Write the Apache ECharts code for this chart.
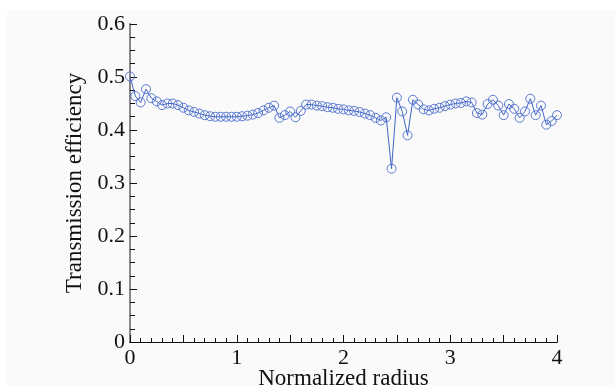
<!DOCTYPE html>
<html><head><meta charset="utf-8">
<script src="https://cdn.jsdelivr.net/npm/echarts@6/dist/echarts.min.js"></script>
<style>html,body{margin:0;padding:0;background:#fff}#c{width:615px;height:385px}</style>
</head><body><div id="c"></div>
<script>
var radius = [0.00,0.05,0.10,0.15,0.20,0.25,0.30,0.35,0.40,0.45,0.50,0.55,0.60,0.65,0.70,0.75,0.80,0.85,0.90,0.95,
1.00,1.05,1.10,1.15,1.20,1.25,1.30,1.35,1.40,1.45,1.50,1.55,1.60,1.65,1.70,1.75,1.80,1.85,1.90,1.95,
2.00,2.05,2.10,2.15,2.20,2.25,2.30,2.35,2.40,2.45,2.50,2.55,2.60,2.65,2.70,2.75,2.80,2.85,2.90,2.95,
3.00,3.05,3.10,3.15,3.20,3.25,3.30,3.35,3.40,3.45,3.50,3.55,3.60,3.65,3.70,3.75,3.80,3.85,3.90,3.95,4.00];
var efficiency = [0.501,0.464,0.452,0.477,0.460,0.454,0.447,0.450,0.450,0.447,0.442,0.437,0.434,0.431,0.428,0.426,0.425,0.425,0.425,0.425,
0.425,0.426,0.427,0.429,0.432,0.437,0.442,0.446,0.423,0.428,0.435,0.424,0.436,0.448,0.448,0.446,0.445,0.443,0.442,0.440,
0.439,0.437,0.436,0.434,0.431,0.428,0.423,0.418,0.424,0.327,0.461,0.435,0.390,0.457,0.448,0.439,0.437,0.440,0.442,0.445,
0.448,0.450,0.451,0.454,0.452,0.432,0.429,0.449,0.457,0.446,0.428,0.449,0.440,0.423,0.435,0.459,0.428,0.446,0.410,0.417,0.428];
var xTicks = ['0','1','2','3','4'];
var yTicks = ['0','0.1','0.2','0.3','0.4','0.5','0.6'];

var FONT = '"Liberation Serif", "DejaVu Serif", serif';
var chart = echarts.init(document.getElementById('c'), null, {renderer:'canvas'});
var pts = radius.map(function(r,i){return [r, efficiency[i]];});
chart.setOption({
  animation:false,
  backgroundColor:'#ffffff',
  graphic:[{type:'rect', z:-10, shape:{x:7,y:10,width:615,height:385}, style:{fill:'#fafafa'}}],
  grid:{left:130, right:58, top:24, bottom:43, containLabel:false, outerBoundsMode:'none'},
  xAxis:[{
    type:'value', min:0, max:4, interval:0.5,
    name:'Normalized radius', nameLocation:'middle', nameGap:25, nameMoveOverlap:false,
    nameTextStyle:{fontFamily:FONT, fontSize:23, color:'#111'},
    axisLine:{lineStyle:{color:'#111', width:1}},
    axisTick:{inside:true, length:7, lineStyle:{color:'#111'}},
    minorTick:{show:true, splitNumber:5, length:4, lineStyle:{color:'#111'}},
    splitLine:{show:false},
    axisLabel:{fontFamily:FONT, fontSize:22, color:'#111', margin:5,
      formatter:function(v){var s=String(v); return xTicks.indexOf(s)>=0?s:'';}}
  },{
    type:'value', min:0, max:4, position:'top',
    axisLine:{show:true, lineStyle:{color:'#111'}}, axisTick:{show:false}, axisLabel:{show:false}, splitLine:{show:false}
  }],
  yAxis:[{
    type:'value', min:0, max:0.6, interval:0.1,
    name:'Transmission efficiency', nameLocation:'middle', nameGap:44, nameRotate:90,
    nameTextStyle:{fontFamily:FONT, fontSize:23, color:'#111'},
    axisLine:{show:true, lineStyle:{color:'#111', width:1}},
    axisTick:{inside:true, length:7, lineStyle:{color:'#111'}},
    minorTick:{show:true, splitNumber:4, length:5, lineStyle:{color:'#111'}},
    splitLine:{show:false},
    axisLabel:{fontFamily:FONT, fontSize:22, color:'#111', margin:5,
      formatter:function(v){var s=String(Math.round(v*10)/10); return yTicks.indexOf(s)>=0?s:'';}}
  },{
    type:'value', min:0, max:0.6, position:'right',
    axisLine:{show:true, lineStyle:{color:'#888', width:2}}, axisTick:{show:false}, axisLabel:{show:false}, splitLine:{show:false}
  }],
  series:[{
    type:'line', data:pts, symbol:'circle', symbolSize:9,
    lineStyle:{color:'#4266c8', width:1},
    itemStyle:{color:'rgba(0,0,0,0)', borderColor:'#4a6cce', borderWidth:0.9},
    emphasis:{disabled:true}
  }]
});
</script></body></html>
